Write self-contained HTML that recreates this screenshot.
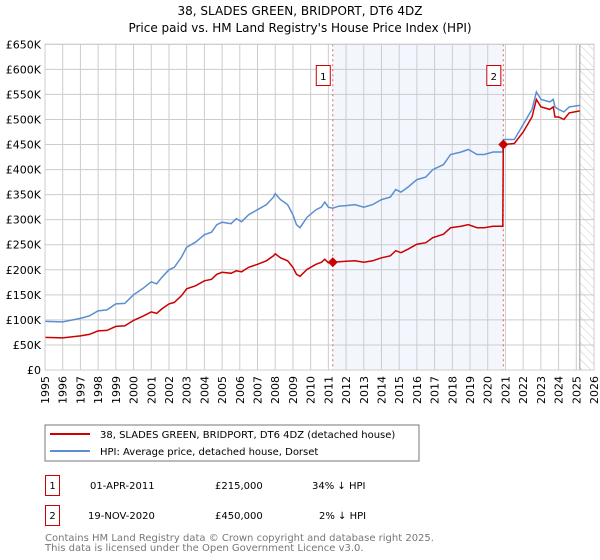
<!DOCTYPE html>
<html><head><meta charset="utf-8"><style>
body{margin:0;background:#fff;font-family:"DejaVu Sans","Liberation Sans",sans-serif}
svg{display:block}
text{font-family:"DejaVu Sans","Liberation Sans",sans-serif}
</style></head><body>
<svg id="c" width="600" height="560">
<defs><pattern id="hatch" width="6" height="6" patternUnits="userSpaceOnUse" patternTransform="rotate(-45)"><line x1="0" y1="0" x2="0" y2="6" stroke="#ccc" stroke-width="1"/></pattern></defs>
<text x="300" y="15" text-anchor="middle" font-size="12">38, SLADES GREEN, BRIDPORT, DT6 4DZ</text>
<text x="300" y="32" text-anchor="middle" font-size="12">Price paid vs. HM Land Registry's House Price Index (HPI)</text>
<g id="plot"></g>
<rect x="45" y="425" width="374" height="36" fill="#fff" stroke="#777"/>
<line x1="50" y1="434" x2="90" y2="434" stroke="#cc0000" stroke-width="2"/>
<text x="100" y="438" font-size="10">38, SLADES GREEN, BRIDPORT, DT6 4DZ (detached house)</text>
<line x1="50" y1="451" x2="90" y2="451" stroke="#5b8fd0" stroke-width="2"/>
<text x="100" y="455" font-size="10">HPI: Average price, detached house, Dorset</text>
<g font-size="10">
<rect x="45.5" y="475.5" width="14" height="20" fill="none" stroke="#c00"/>
<text x="52.5" y="489" text-anchor="middle">1</text>
<text x="90" y="489">01-APR-2011</text><text x="215" y="489">£215,000</text><text x="312" y="489">34% ↓ HPI</text>
<rect x="45.5" y="505.5" width="14" height="20" fill="none" stroke="#c00"/>
<text x="52.5" y="519" text-anchor="middle">2</text>
<text x="88" y="519">19-NOV-2020</text><text x="215" y="519">£450,000</text><text x="319" y="519">2% ↓ HPI</text>
</g>
<text x="45" y="541" font-size="10" fill="#777">Contains HM Land Registry data © Crown copyright and database right 2025.</text>
<text x="45" y="551" font-size="10" fill="#777">This data is licensed under the Open Government Licence v3.0.</text>
</svg>
<script>
const years=[1995,1996,1997,1997.5,1998,1998.5,1999,1999.5,2000,2000.5,2001,2001.3,2001.6,2002,2002.3,2002.7,2003,2003.5,2004,2004.4,2004.7,2005,2005.5,2005.8,2006.1,2006.5,2007,2007.5,2007.9,2008,2008.3,2008.7,2009,2009.2,2009.4,2009.8,2010.3,2010.6,2010.8,2011,2011.25,2011.6,2012,2012.5,2013,2013.5,2014,2014.5,2014.8,2015.1,2015.5,2016,2016.5,2016.9,2017.5,2017.9,2018.5,2018.9,2019.4,2019.8,2020.3,2020.85,2020.88,2021.5,2022,2022.5,2022.75,2023,2023.5,2023.7,2023.8,2024,2024.3,2024.6,2025.2];
const hpi=[97,96,103,108,118,120,132,133,150,162,176,172,185,200,205,225,245,255,270,275,290,295,292,302,296,310,320,330,345,352,340,330,310,290,284,305,320,325,335,325,323,327,328,330,325,330,340,345,360,355,365,380,385,400,410,430,435,440,430,430,435,435,460,460,490,520,555,540,535,540,525,520,515,525,528];
const prop=[65,64,68,71,78,79,87,88,99,107,116,113,122,132,135,148,162,168,178,181,191,195,193,198,196,205,211,218,228,232,224,218,205,191,187,201,211,215,221,214,215,216,217,218,215,218,224,228,238,234,241,251,254,264,271,284,287,290,284,284,287,287,450,452,475,505,540,525,520,525,505,505,500,513,517];
const yTicks=[0,50,100,150,200,250,300,350,400,450,500,550,600,650];
const yLabels=["£0","£50K","£100K","£150K","£200K","£250K","£300K","£350K","£400K","£450K","£500K","£550K","£600K","£650K"];
const xTicks=[1995,1996,1997,1998,1999,2000,2001,2002,2003,2004,2005,2006,2007,2008,2009,2010,2011,2012,2013,2014,2015,2016,2017,2018,2019,2020,2021,2022,2023,2024,2025,2026];
const sales=[{label:"1",year:2011.25,value:215},{label:"2",year:2020.88,value:450}];
const X0=45,X1=594,Y0=370,Y1=44.3;
const xs=y=>X0+(y-1995)/(2026-1995)*(X1-X0);
const ys=v=>Y0-v/650*(Y0-Y1);
const NS="http://www.w3.org/2000/svg",g=document.getElementById('plot');
function mk(t,a,p){const e=document.createElementNS(NS,t);for(const k in a)e.setAttribute(k,a[k]);(p||g).appendChild(e);return e;}
let e=mk('rect',{x:xs(sales[0].year),y:Y1,width:xs(sales[1].year)-xs(sales[0].year),height:Y0-Y1,fill:'#eef3fc',opacity:0.7});

e=mk('rect',{x:xs(2025.2),y:Y1,width:X1-xs(2025.2),height:Y0-Y1,fill:'url(#hatch)'});

xTicks.forEach(t=>{const l=mk('line',{x1:xs(t),x2:xs(t),y1:Y1,y2:Y0,stroke:'#ccc'});

const tx=mk('text',{x:0,y:0,'font-size':11,'text-anchor':'end',transform:`translate(${xs(t)+4},${Y0+6}) rotate(-90)`});tx.textContent=t;
});
yTicks.forEach((t,i)=>{const l=mk('line',{x1:X0,x2:X1,y1:ys(t),y2:ys(t),stroke:'#ccc'});

const tx=mk('text',{x:X0-4,y:ys(t)+4,'font-size':11,'text-anchor':'end'});tx.textContent=yLabels[i];
});
e=mk('line',{x1:xs(2025.2),x2:xs(2025.2),y1:Y1,y2:Y0,stroke:'#999'});

sales.forEach(s=>{const l=mk('line',{x1:xs(s.year),x2:xs(s.year),y1:Y1,y2:Y0,stroke:'#e06060','stroke-dasharray':'2,3'});
});
const pts=a=>a.map((v,i)=>xs(years[i]).toFixed(1)+','+ys(v).toFixed(1)).join(' ');
e=mk('polyline',{points:pts(hpi),fill:'none',stroke:'#5b8fd0','stroke-width':1.5});

e=mk('polyline',{points:pts(prop),fill:'none',stroke:'#cc0000','stroke-width':1.5});

sales.forEach(s=>{const cx=xs(s.year),cy=ys(s.value);
const d=mk('polygon',{points:`${cx},${cy-5} ${cx+5},${cy} ${cx},${cy+5} ${cx-5},${cy}`,fill:'#cc0000'});

const b=mk('rect',{x:cx-16.5,y:65.5,width:14,height:20,fill:'#fff',stroke:'#c00'});

const t=mk('text',{x:cx-9.5,y:80,'font-size':10,'text-anchor':'middle'});t.textContent=s.label;
});
e=mk('rect',{x:X0,y:Y1,width:X1-X0,height:Y0-Y1,fill:'none',stroke:'#ccc'});

</script>
</body></html>
